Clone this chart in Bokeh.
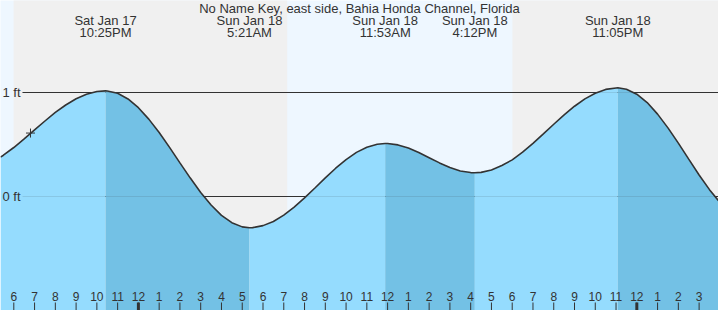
from bokeh.plotting import figure
from bokeh.models import Range1d
from bokeh.core.properties import value
from bokeh.embed import file_html
from bokeh.resources import INLINE

# ---------------- data (hours relative to midnight Sat Jan 17 -> Sun Jan 18; feet) -------------
title_text = "No Name Key, east side, Bahia Honda Channel, Florida"

tide_times = [-6.64, -6.5, -6.0, -5.5, -5.0, -4.5, -4.0, -3.5, -3.0, -2.5, -2.0, -1.583,
              -1.5, -1.0, -0.5, 0.0, 0.5, 1.0, 1.5, 2.0, 2.5, 3.0, 3.5, 4.0, 4.5, 5.0, 5.35,
              5.5, 6.0, 6.5, 7.0, 7.5, 8.0, 8.5, 9.0, 9.5, 10.0, 10.5, 11.0, 11.5, 11.883,
              12.0, 12.5, 13.0, 13.5, 14.0, 14.5, 15.0, 15.5, 16.0, 16.2,
              16.5, 17.0, 17.5, 18.0, 18.5, 19.0, 19.5, 20.0, 20.5, 21.0, 21.5, 22.0, 22.5, 23.0, 23.083,
              23.5, 24.0, 24.5, 25.0, 25.5, 26.0, 26.5, 27.0, 27.5, 27.934]
tide_heights = [0.379, 0.397, 0.471, 0.554, 0.640, 0.726, 0.808, 0.880, 0.940, 0.983, 1.009, 1.016,
                1.015, 0.993, 0.938, 0.854, 0.744, 0.615, 0.472, 0.323, 0.177, 0.039, -0.082, -0.181, -0.252, -0.292, -0.300,
                -0.299, -0.280, -0.240, -0.179, -0.102, -0.013, 0.082, 0.179, 0.272, 0.355, 0.424, 0.474, 0.503, 0.510,
                0.509, 0.496, 0.466, 0.423, 0.373, 0.323, 0.278, 0.246, 0.230, 0.228,
                0.232, 0.255, 0.298, 0.352, 0.426, 0.511, 0.602, 0.695, 0.785, 0.868, 0.939, 0.993, 1.030, 1.044, 1.045,
                1.032, 0.984, 0.903, 0.792, 0.660, 0.513, 0.359, 0.207, 0.066, -0.040]
assert len(tide_times) == len(tide_heights)

# tide extremes (high / low)
event_times = [-1.583, 5.35, 11.883, 16.2, 23.083]
event_kind = ["high", "low", "high", "low", "high"]
event_day = ["Sat Jan 17", "Sun Jan 18", "Sun Jan 18", "Sun Jan 18", "Sun Jan 18"]
event_clock = ["10:25PM", "5:21AM", "11:53AM", "4:12PM", "11:05PM"]

# sun: night intervals
night_start = [-6.01, 18.01]
night_end = [7.165, 40.0]

# hour ticks
hour_ticks = list(range(-6, 28))
hour_labels = ["6", "7", "8", "9", "10", "11", "12", "1", "2", "3", "4", "5", "6", "7", "8", "9",
               "10", "11", "12", "1", "2", "3", "4", "5", "6", "7", "8", "9", "10", "11", "12",
               "1", "2", "3"]
midnight_ticks = [0, 24]

ft_levels = [1, 0]
ft_labels = ["1 ft", "0 ft"]

now_time = -5.196
now_height = 0.61

# ---------------- layout -------------
W, H = 718, 310
PX_PER_H = 20.767
PX_PER_FT = 104.0
X0 = -6.0 - 13.3 / PX_PER_H
X1 = X0 + W / PX_PER_H
Y1 = 196.0 / PX_PER_FT
Y0 = Y1 - H / PX_PER_FT
TEXT_SHIFT = 4.0  # px


def xd(px):
    return X0 + px / PX_PER_H


def yd(px):
    return Y1 - px / PX_PER_FT


def yt(px):
    return yd(px - TEXT_SHIFT)


DAY = "#eef7ff"
NIGHT = "#f0f0f0"
LIGHT = "#95dcfe"
DARK = "#73c1e5"
INK = "#333333"
FONT = value("Liberation Sans")

p = figure(width=W, height=H, x_range=Range1d(X0, X1), y_range=Range1d(Y0, Y1),
           output_backend="svg", toolbar_location=None, min_border=0,
           x_axis_location=None, y_axis_location=None)
p.grid.visible = False
p.outline_line_color = None
p.background_fill_color = DAY
p.border_fill_color = DAY

# night bands
p.quad(left=night_start, right=night_end, bottom=Y0 - 1, top=Y1 + 1, fill_color=NIGHT, line_color=None)

# reference lines (under the water)
line_x0 = [xd(22)] * len(ft_levels)
line_x1 = [X1 + 1] * len(ft_levels)
p.segment(x0=line_x0, x1=line_x1, y0=ft_levels, y1=ft_levels, line_color=INK, line_width=1)

# water fill: rising light, falling dark
idx = [0] + [tide_times.index(t) for t in event_times] + [len(tide_times) - 1]
for k in range(len(idx) - 1):
    a, b = idx[k], idx[k + 1]
    falling = k > 0 and event_kind[k - 1] == "high"
    p.varea(x=tide_times[a:b + 1], y1=[Y0 - 1] * (b - a + 1), y2=tide_heights[a:b + 1],
            fill_color=DARK if falling else LIGHT)

# faint reference lines over the water
p.segment(x0=line_x0, x1=line_x1, y0=ft_levels, y1=ft_levels, line_color=INK, line_alpha=0.12, line_width=1)

# tide curve
p.line(tide_times, tide_heights, line_color=INK, line_width=1.6)

# current time marker
p.scatter([now_time], [now_height], marker="cross", size=9, line_color=INK, line_width=1)

# hour ticks
p.segment(x0=hour_ticks, x1=hour_ticks, y0=[yd(302)] * len(hour_ticks), y1=[Y0 - 1] * len(hour_ticks),
          line_color=INK, line_width=1)
p.segment(x0=midnight_ticks, x1=midnight_ticks, y0=[yd(302)] * 2, y1=[Y0 - 1] * 2,
          line_color=INK, line_width=3)
p.text(x=hour_ticks, y=[yt(300)] * len(hour_ticks), text=hour_labels, text_font=FONT,
       text_font_size="12px", text_align="center", text_baseline="alphabetic", text_color=INK)

# ft labels
p.text(x=[xd(2)] * 2, y=[lv + (TEXT_SHIFT - 4) / PX_PER_FT for lv in ft_levels], text=ft_labels, text_font=FONT,
       text_font_size="13px", text_align="left", text_baseline="alphabetic", text_color=INK)

# event labels
p.text(x=event_times, y=[yt(24)] * len(event_times), text=event_day, text_font=FONT,
       text_font_size="13px", text_align="center", text_baseline="alphabetic", text_color=INK)
p.text(x=event_times, y=[yt(36)] * len(event_times), text=event_clock, text_font=FONT,
       text_font_size="13px", text_align="center", text_baseline="alphabetic", text_color=INK)

# title
p.text(x=[xd(359)], y=[yt(12)], text=[title_text], text_font=FONT, text_font_size="13px",
       text_align="center", text_baseline="alphabetic", text_color=INK)

open("out.html", "w").write(file_html(p, INLINE))
